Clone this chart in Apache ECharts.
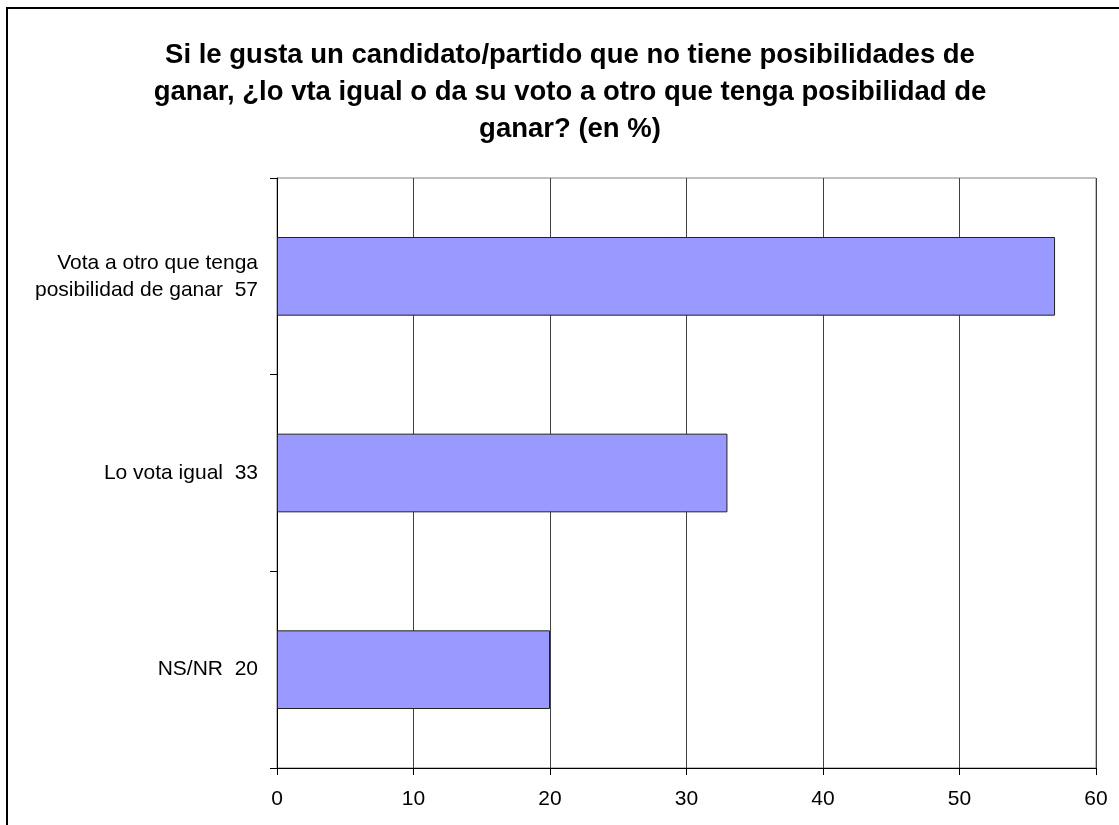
<!DOCTYPE html>
<html>
<head>
<meta charset="utf-8">
<script src="https://cdn.jsdelivr.net/npm/echarts@6/dist/echarts.min.js"></script>
<style>
  html, body { margin: 0; padding: 0; background: #fff; }
  #chart { width: 1119px; height: 825px; }
</style>
</head>
<body>
<div id="chart"></div>
<script>
// datos de la encuesta
let titleText = 'Si le gusta un candidato/partido que no tiene posibilidades de\nganar, ¿lo vta igual o da su voto a otro que tenga posibilidad de\nganar? (en %)';
let categories = ['Vota a otro que tenga\nposibilidad de ganar  57', 'Lo vota igual  33', 'NS/NR  20'];
let values = [57, 33, 20];
let xTicks = [0, 10, 20, 30, 40, 50, 60];

let font = 'Arial';
let chart = echarts.init(document.getElementById('chart'));

chart.setOption({
    animation: false,
    backgroundColor: '#fff',
    title: {
        text: titleText,
        left: 565,
        top: 32,
        textAlign: 'center',
        textStyle: {
            fontFamily: font,
            fontSize: 27.5,
            fontWeight: 'bold',
            color: '#000',
            lineHeight: 37,
            align: 'center'
        }
    },
    graphic: [{
        type: 'rect',
        shape: {x: 7, y: 8, width: 1200, height: 900},
        style: {fill: 'none', stroke: '#000', lineWidth: 2},
        silent: true
    }],
    grid: {
        left: 277, right: 23, top: 178, bottom: 57,
        show: true, borderColor: '#808080', borderWidth: 1
    },
    xAxis: {
        type: 'value',
        min: xTicks[0],
        max: xTicks[xTicks.length - 1],
        interval: 10,
        axisLine: {show: true, lineStyle: {color: '#000', width: 1}},
        axisTick: {show: true, length: 7, lineStyle: {color: '#000'}},
        axisLabel: {fontFamily: font, fontSize: 21, color: '#000', margin: 21},
        splitLine: {show: true, lineStyle: {color: '#404040', width: 1}}
    },
    yAxis: {
        type: 'category',
        data: categories,
        inverse: true,
        axisLine: {show: true, lineStyle: {color: '#000', width: 1}},
        axisTick: {show: true, length: 7, lineStyle: {color: '#000'}},
        axisLabel: {fontFamily: font, fontSize: 21, color: '#000', margin: 19, lineHeight: 27, align: 'right'},
        splitLine: {show: false}
    },
    series: [{
        type: 'bar',
        data: values,
        barWidth: '40%',
        itemStyle: {color: '#9999FF', borderColor: '#222', borderWidth: 1}
    }]
});
</script>
</body>
</html>
